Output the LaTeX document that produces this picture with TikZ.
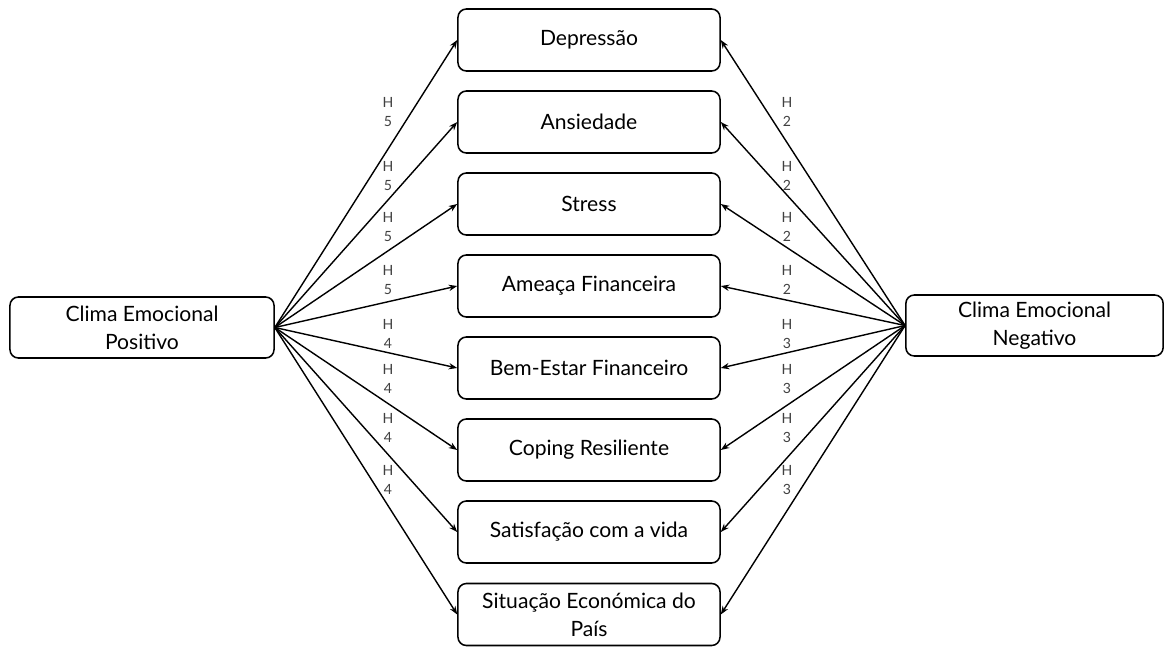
\documentclass[tikz,border=0pt]{standalone}
\usepackage{fontspec}
\setmainfont{Lato}
\usetikzlibrary{arrows.meta}
\begin{document}
\begin{tikzpicture}[x=0.025cm,y=-0.025cm,>={Stealth[length=6pt,width=4.5pt]}, line join=round, line cap=round,
	box/.style={draw, line width=1.1pt, rounded corners=6pt, inner sep=0pt, align=center,
		minimum width=6.55cm, minimum height=1.55cm, font=\fontsize{15}{19.8}\selectfont},
	hlab/.style={align=center, text=black!75, inner sep=0pt, font=\fontsize{10}{13.5}\selectfont}]
	\useasboundingbox (0,0) rectangle (1164,646);
	\def\xm{589} \def\xl{388} \def\xr{787}
	% sides
	\node[box, minimum width=6.6cm, minimum height=1.525cm] (cep) at (142,327.5) {Clima Emocional\\Positivo};
	\node[box, minimum width=6.43cm, minimum height=1.525cm] (cen) at (1034.5,325.5) {Clima Emocional\\Negativo};
	% middle column
	\foreach \n/\y/\t in {dep/40/Depressão, ans/122/Ansiedade, str/204/Stress, ame/286/Ameaça Financeira,
		bem/368/Bem-Estar Financeiro, cop/450/Coping Resiliente, sat/532/Satisfação com a vida,
		sit/614.5/{Situação Económica do\\País}}
		\node[box] (\n) at (\xm,\y) {\t};
	% arrows
	\foreach \n in {dep,ans,str,ame,bem,cop,sat,sit}{
		\draw[->, line width=1pt] (cep.east) -- (\n.west);
		\draw[->, line width=1pt] (cen.west) -- (\n.east);
	}
	% labels
	\foreach \i/\y/\a/\b in {1/112/5/2, 2/176/5/2, 3/227/5/2, 4/280/5/2, 5/334/4/3, 6/379/4/3, 7/428/4/3, 8/480/4/3}{
		\node[hlab] (hl\i) at (\xl,\y) {H\\\a};
		\node[hlab] (hr\i) at (\xr,\y) {H\\\b};
	}
\end{tikzpicture}
\end{document}
